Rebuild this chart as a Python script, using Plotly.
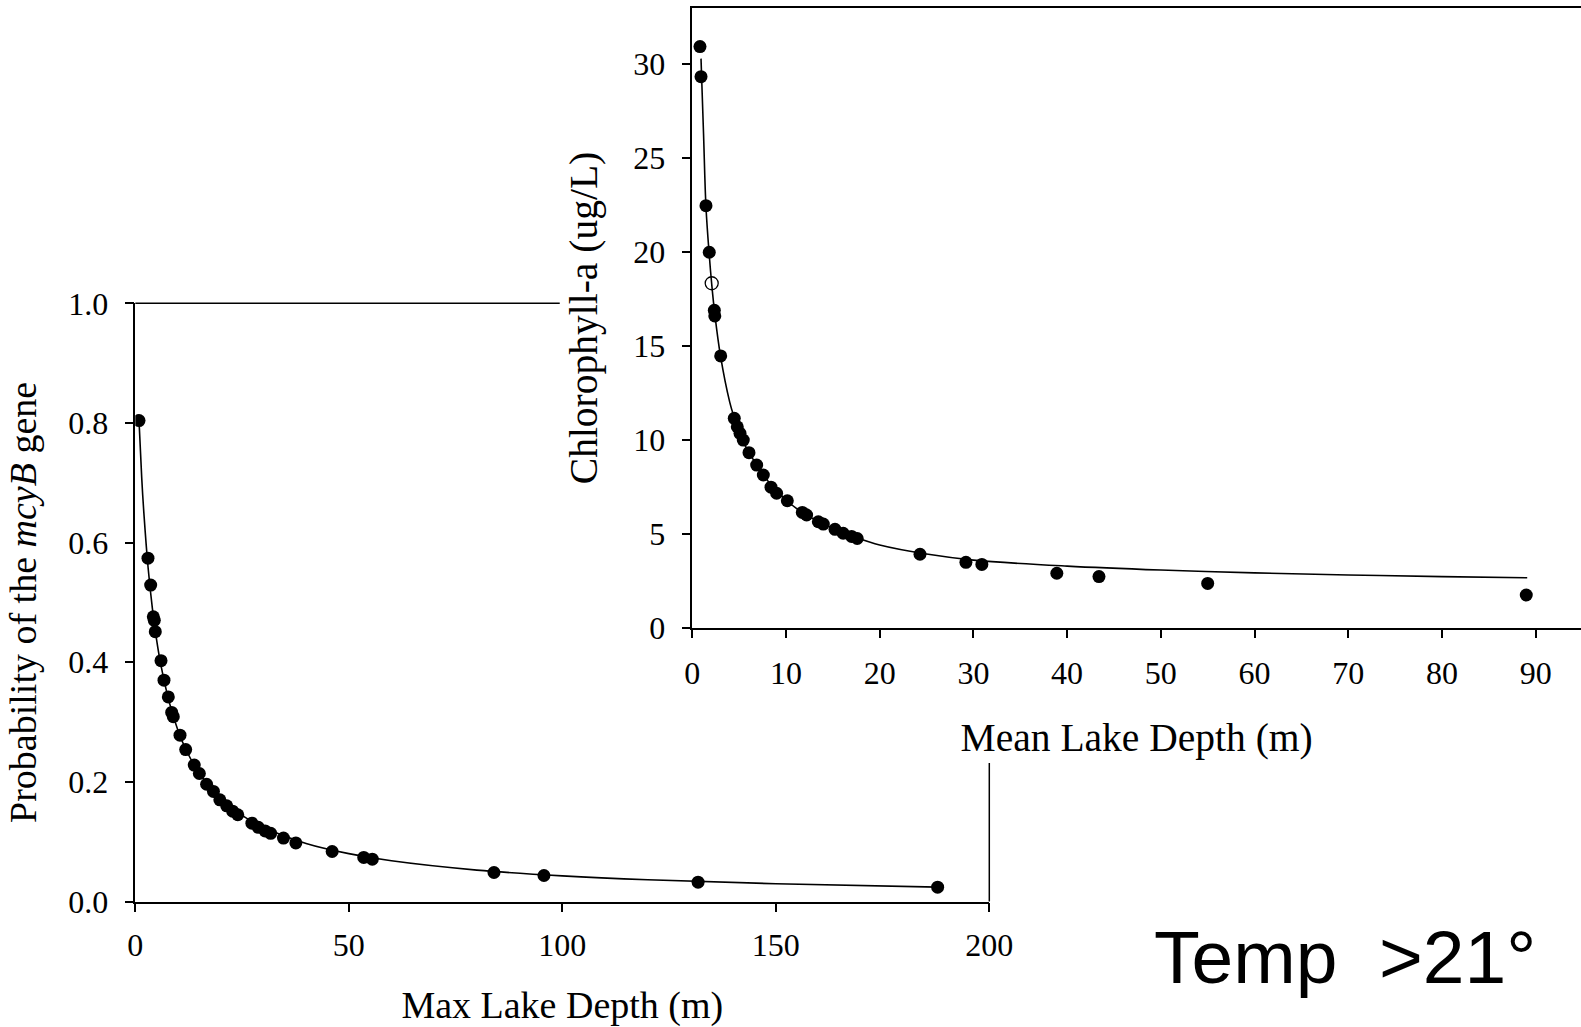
import plotly.graph_objects as go

# ---- Left panel: probability of mcyB vs max lake depth ----
max_depth = [0.87, 2.97, 3.6, 4.22, 4.45, 4.68, 6.02, 6.72, 7.73, 8.52, 8.9, 10.47, 11.8,
             13.8, 15.0, 16.7, 18.3, 19.8, 21.4, 22.8, 24.0, 27.3, 28.8, 30.4, 31.7,
             34.7, 37.6, 46.1, 53.5, 55.5, 84.0, 95.7, 131.8, 187.9]
prob_mcyb = [0.804, 0.574, 0.529, 0.476, 0.470, 0.451, 0.4025, 0.370, 0.342, 0.316, 0.309,
             0.278, 0.254, 0.228, 0.214, 0.196, 0.184, 0.170, 0.160, 0.151, 0.145, 0.131,
             0.124, 0.118, 0.114, 0.106, 0.098, 0.0836, 0.0736, 0.0708, 0.0485, 0.0435,
             0.0323, 0.024]
fit_max_depth = [0.87, 1.5, 2, 3, 4, 5, 6, 8, 10, 12, 15, 20, 25, 30, 40, 50, 60, 80,
                 100, 120, 150, 188]
fit_prob = [0.804, 0.709, 0.650, 0.558, 0.490, 0.437, 0.395, 0.332, 0.286, 0.252, 0.214,
            0.172, 0.144, 0.124, 0.097, 0.080, 0.068, 0.0525, 0.0429, 0.0363, 0.0296, 0.024]

# ---- Right panel: chlorophyll-a vs mean lake depth ----
mean_depth = [0.82, 0.93, 1.46, 1.81, 2.35, 2.40, 3.03, 4.48, 4.80, 5.09, 5.44, 6.05, 6.87,
              7.58, 8.40, 9.0, 10.14, 11.74, 12.2, 13.45, 13.98, 15.23, 16.1, 17.0, 17.6,
              24.3, 29.2, 30.9, 38.9, 43.4, 55.0, 89.0]
chla = [30.94, 29.34, 22.47, 19.99, 16.9, 16.6, 14.47, 11.15, 10.70, 10.35, 9.99, 9.32,
        8.66, 8.13, 7.48, 7.16, 6.76, 6.14, 6.0, 5.64, 5.52, 5.24, 5.03, 4.86, 4.75,
        3.91, 3.48, 3.37, 2.90, 2.72, 2.36, 1.74]
open_depth = [2.07]
open_chla = [18.34]
fit_mean_depth = [0.93, 1.2, 1.46, 1.8, 2.07, 2.4, 3.0, 4.0, 4.5, 5.0, 6.0, 7.0, 8.0, 10,
                  12, 15, 17.5, 20, 25, 30, 40, 50, 60, 70, 80, 89.1]
fit_chla = [30.3, 26.3, 22.4, 19.9, 18.3, 16.7, 14.5, 12.0, 11.15, 10.4, 9.35, 8.6, 7.85,
            6.8, 6.05, 5.3, 4.8, 4.40, 3.92, 3.60, 3.28, 3.07, 2.92, 2.81, 2.72, 2.66]

left_xticks = [0, 50, 100, 150, 200]
left_yticks = [0.0, 0.2, 0.4, 0.6, 0.8, 1.0]
right_xticks = [0, 10, 20, 30, 40, 50, 60, 70, 80, 90]
right_yticks = [0, 5, 10, 15, 20, 25, 30]

SERIF = "Liberation Serif, Times New Roman, serif"
TICK_FONT = dict(family=SERIF, size=32, color="black")
LEFT_TITLE_FONT = dict(family=SERIF, size=38, color="black")
RIGHT_TITLE_FONT = dict(family=SERIF, size=39.5, color="black")

fig = go.Figure()

fig.add_trace(go.Scatter(x=fit_max_depth, y=fit_prob, mode="lines", line_shape="spline",
                         line=dict(color="black", width=1.6), xaxis="x", yaxis="y",
                         showlegend=False, hoverinfo="skip"))
fig.add_trace(go.Scatter(x=max_depth, y=prob_mcyb, mode="markers",
                         marker=dict(color="black", size=13, line=dict(width=0)),
                         xaxis="x", yaxis="y", showlegend=False))

fig.add_trace(go.Scatter(x=fit_mean_depth, y=fit_chla, mode="lines", line_shape="spline",
                         line=dict(color="black", width=1.6), xaxis="x2", yaxis="y2",
                         showlegend=False, hoverinfo="skip"))
fig.add_trace(go.Scatter(x=mean_depth, y=chla, mode="markers",
                         marker=dict(color="black", size=13, line=dict(width=0)),
                         xaxis="x2", yaxis="y2", showlegend=False))
fig.add_trace(go.Scatter(x=open_depth, y=open_chla, mode="markers",
                         marker=dict(symbol="circle-open", color="black", size=13,
                                     line=dict(width=1.3, color="black")),
                         xaxis="x2", yaxis="y2", showlegend=False))

W, H = 1581, 1027
axis_common = dict(showgrid=False, zeroline=False, showline=True, linecolor="black",
                   linewidth=1.5, ticks="outside", ticklen=9, tickwidth=1.5,
                   tickcolor="black", tickfont=TICK_FONT, automargin=False)

fig.update_layout(
    width=W, height=H, autosize=False,
    margin=dict(l=0, r=0, t=0, b=0, pad=0, autoexpand=False),
    paper_bgcolor="white", plot_bgcolor="white",
    showlegend=False,
    xaxis=dict(axis_common, domain=[135.3 / W, 989.3 / W], range=[0, 200],
               tickvals=left_xticks, ticktext=[str(v) for v in left_xticks],
               ticklabelstandoff=5,
               title=dict(text="Max Lake Depth (m)", font=LEFT_TITLE_FONT, standoff=41),
               anchor="y"),
    yaxis=dict(axis_common, domain=[(H - 901.5) / H, (H - 303.3) / H], range=[0, 1.0],
               tickvals=left_yticks, ticktext=["%.1f" % v for v in left_yticks],
               ticklabelstandoff=10,
               title=dict(text="Probability of the <i>mcyB</i> gene", font=LEFT_TITLE_FONT,
                          standoff=20),
               anchor="x"),
    xaxis2=dict(axis_common, domain=[692.3 / W, 1.0], range=[0, 94.84], mirror=True,
                tickvals=right_xticks, ticktext=[str(v) for v in right_xticks],
                ticklabelstandoff=7,
                title=dict(text="Mean Lake Depth (m)", font=RIGHT_TITLE_FONT, standoff=34),
                anchor="y2"),
    yaxis2=dict(axis_common, domain=[(H - 627.7) / H, (H - 8.3) / H], range=[0, 32.98],
                tickvals=right_yticks, ticktext=[str(v) for v in right_yticks],
                ticklabelstandoff=10,
                title=dict(text="Chlorophyll-a (ug/L)", font=RIGHT_TITLE_FONT, standoff=23),
                anchor="x2"),
    shapes=[
        dict(type="line", xref="x domain", yref="y domain", x0=0, x1=0.497, y0=1, y1=1,
             line=dict(color="black", width=1.5)),
        dict(type="line", xref="x domain", yref="y domain", x0=1, x1=1, y0=0, y1=0.2315,
             line=dict(color="black", width=1.5)),
    ],
    annotations=[
        dict(text="Temp\u00a0\u00a0>21°", xref="paper", yref="paper",
             x=1345 / W, y=(H - 956.5) / H, xanchor="center", yanchor="middle",
             showarrow=False,
             font=dict(family="Liberation Sans, Arial, sans-serif", size=75, color="black")),
    ],
)

# remove the browser's default 8px page margin so the figure sits at the window's corner
fig.write_html("out.html", config={"displayModeBar": False},
               post_script="document.body.style.margin='0';document.body.style.overflow='hidden';")
